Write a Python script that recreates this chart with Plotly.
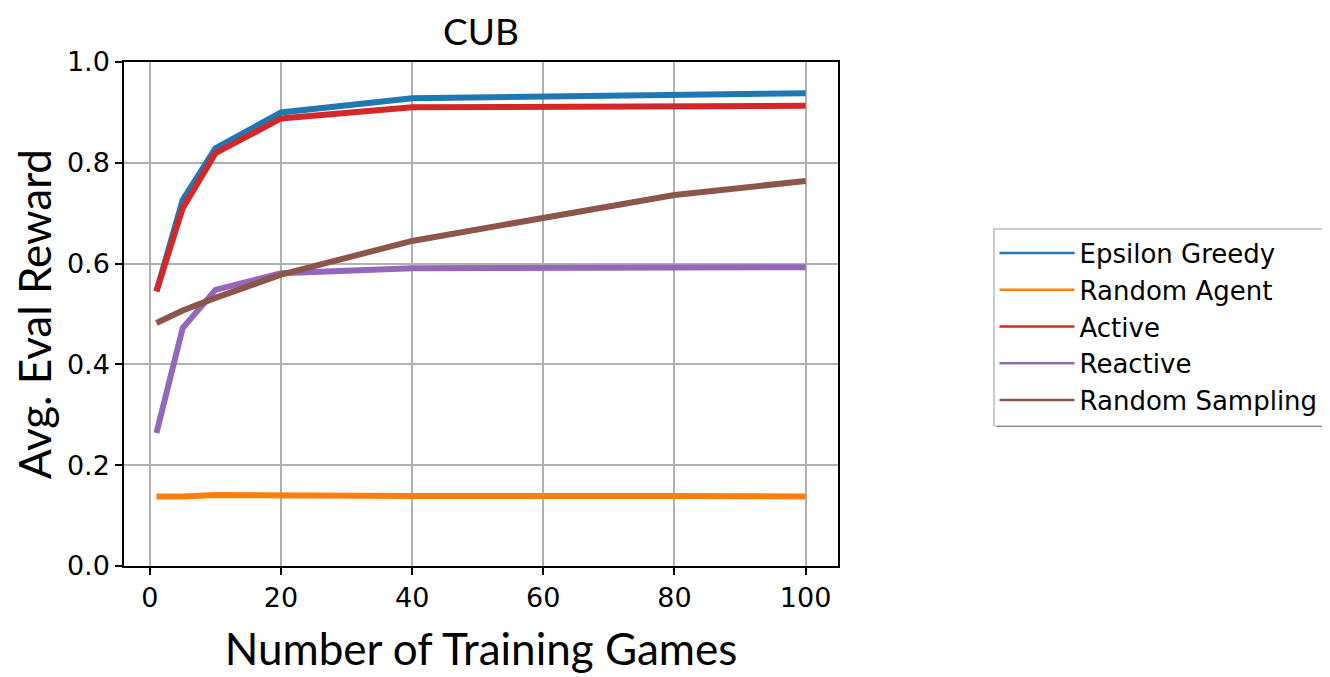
import plotly.graph_objects as go

x_games = [1, 5, 10, 20, 40, 80, 100]
series_names = ["Epsilon Greedy", "Random Agent", "Active", "Reactive", "Random Sampling"]
epsilon_greedy = [0.545, 0.726, 0.829, 0.900, 0.928, 0.935, 0.938]
random_agent = [0.138, 0.138, 0.141, 0.140, 0.139, 0.139, 0.138]
active = [0.545, 0.710, 0.819, 0.888, 0.910, 0.913, 0.913]
reactive = [0.264, 0.472, 0.548, 0.581, 0.591, 0.594, 0.593]
random_sampling = [0.482, 0.507, 0.532, 0.578, 0.645, 0.736, 0.764]
colors = ["#1f77b4", "#ff7f0e", "#d62728", "#9467bd", "#8c564b"]
x_ticks = [0, 20, 40, 60, 80, 100]
y_ticks = [0.0, 0.2, 0.4, 0.6, 0.8, 1.0]

all_series = [epsilon_greedy, random_agent, active, reactive, random_sampling]

# figure-pixel layout (page body adds ~8px offset)
L, T, R, B = 116, 54, 830, 558
W, H = 1330, 677

def px(fx):
    return (fx - L) / (R - L)

def py(fy):
    return (B - fy) / (B - T)

fig = go.Figure()
for name, ys, c in zip(series_names, all_series, colors):
    fig.add_trace(go.Scatter(x=x_games, y=ys, mode="lines", name=name,
                             line=dict(color=c, width=6), showlegend=False,
                             legendgroup=name))
for name, c in zip(series_names, colors):
    fig.add_trace(go.Scatter(x=[None], y=[None], mode="lines", name=name,
                             line=dict(color=c, width=2.5), legendgroup=name))

axis_common = dict(showline=True, linecolor="black", linewidth=1.5, mirror=True,
                   ticks="outside", ticklen=7, tickwidth=1.5, tickcolor="black",
                   showgrid=True, gridcolor="#b0b0b0", gridwidth=1.5, zeroline=False,
                   automargin=False,
                   tickfont=dict(family="DejaVu Sans", size=27, color="black"))

fig.update_layout(
    width=W, height=H,
    margin=dict(l=L, r=W - R, t=T, b=H - B),
    plot_bgcolor="white", paper_bgcolor="white",
    title=dict(text="CUB", x=(L + R) / 2 / W, xanchor="center", y=1 - 24 / H, yanchor="middle",
               font=dict(family="Lato", size=37, color="black")),
    xaxis=dict(range=[-3.95, 104.95], tickvals=x_ticks,
               title=dict(text="Number of Training Games", font=dict(family="Lato", size=44, color="black"), standoff=22),
               **axis_common),
    yaxis=dict(range=[0, 1], tickvals=y_ticks, tickformat=".1f",
               title=dict(text="Avg. Eval Reward", font=dict(family="Lato", size=44, color="black"), standoff=3),
               **axis_common),
    legend=dict(x=px(985), y=py(220), xanchor="left", yanchor="top",
                bgcolor="white", bordercolor="#cccccc", borderwidth=1.5,
                font=dict(family="DejaVu Sans", size=26, color="black"),
                itemwidth=75, tracegroupgap=0),
    shapes=[dict(type="rect", xref="paper", yref="paper",
                 x0=px(988), x1=px(1330), y0=py(419), y1=py(410),
                 fillcolor="#8a8a8a", line=dict(width=0), layer="above")],
)

fig.write_html("out.html")
